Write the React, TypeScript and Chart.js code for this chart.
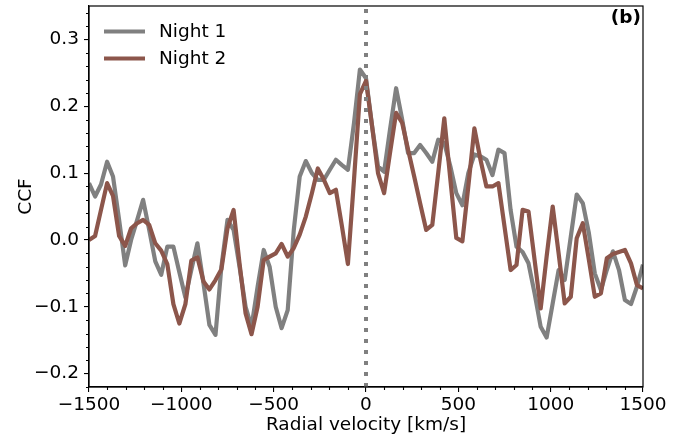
import React, { useEffect, useRef } from 'react';
import { Chart, registerables } from 'chart.js';

Chart.register(...registerables);

// Radial velocity grid [km/s]
const velocities = [
  -1500, -1467, -1435, -1402, -1370, -1337, -1304, -1272, -1239, -1207, -1174, -1141, -1109, -1076, -1043, -1011,
  -978, -946, -913, -880, -848, -815, -783, -750, -717, -685, -652, -620, -587, -554, -522, -489,
  -457, -424, -391, -359, -326, -293, -261, -228, -196, -163, -130, -98, -65, -33, 0,
  33, 65, 98, 130, 163, 196, 228, 261, 293, 326, 359, 391, 424, 457, 489,
  522, 554, 587, 620, 652, 685, 717, 750, 783, 815, 848, 880, 913, 946, 978, 1011,
  1043, 1076, 1109, 1141, 1174, 1207, 1239, 1272, 1304, 1337, 1370, 1402, 1435, 1467, 1500,
];

const night1 = [
  0.085, 0.065, 0.083, 0.117, 0.095, 0.03, -0.038, 0.0, 0.03, 0.06,
  0.015, -0.032, -0.052, -0.01, -0.01, -0.048, -0.086, -0.045, -0.005, -0.065,
  -0.127, -0.142, -0.04, 0.03, 0.015, -0.04, -0.1, -0.13, -0.07, -0.015,
  -0.04, -0.1, -0.132, -0.105, 0.015, 0.095, 0.118, 0.1, 0.09, 0.09,
  0.105, 0.12, 0.112, 0.105, 0.175, 0.255, 0.242, 0.17, 0.11, 0.102,
  0.165, 0.227, 0.18, 0.13, 0.13, 0.142, 0.13, 0.117, 0.15, 0.145,
  0.11, 0.07, 0.052, 0.1, 0.128, 0.125, 0.12, 0.097, 0.135, 0.13,
  0.045, -0.01, -0.018, -0.035, -0.08, -0.13, -0.146, -0.095, -0.045, -0.06,
  0.005, 0.068, 0.055, 0.01, -0.05, -0.075, -0.045, -0.017, -0.045, -0.09,
  -0.096, -0.07, -0.037,
];

const night2 = [
  0.0, 0.006, 0.045, 0.085, 0.066, 0.006, -0.009, 0.0175, 0.025, 0.03,
  0.0225, -0.005, -0.016, -0.036, -0.096, -0.125, -0.096, -0.031, -0.026, -0.062,
  -0.074, -0.06, -0.044, 0.0175, 0.045, -0.035, -0.11, -0.141, -0.1, -0.03,
  -0.025, -0.02, -0.006, -0.025, -0.012, 0.008, 0.035, 0.07, 0.107, 0.09,
  0.07, 0.075, 0.02, -0.036, 0.09, 0.218, 0.238, 0.17, 0.1, 0.07,
  0.13, 0.19, 0.175, 0.135, 0.095, 0.055, 0.015, 0.0225, 0.1, 0.182,
  0.09, 0.003, -0.002, 0.08, 0.167, 0.12, 0.08, 0.08, 0.085, 0.02,
  -0.045, -0.0375, 0.045, 0.0425, -0.03, -0.1025, -0.025, 0.05, -0.02, -0.095,
  -0.085, 0.0025, 0.025, -0.03, -0.085, -0.08, -0.0275, -0.021, -0.018, -0.015,
  -0.035, -0.0675, -0.0725,
];

const seriesNames = ['Night 1', 'Night 2'];
const seriesColors = ['#808080', '#8c564b'];

const xTicks = [-1500, -1000, -500, 0, 500, 1000, 1500];
const yTicks = [-0.2, -0.1, 0.0, 0.1, 0.2, 0.3];
const xRange = [-1500, 1500];
const yRange = [-0.22, 0.35];
const xMinorStep = 100;
const yMinorStep = 0.02;
const panelLabel = '(b)';
const xTitle = 'Radial velocity [km/s]';
const yTitle = 'CCF';

const FONT = 'DejaVu Sans';
const FS = 18.5;
const fmt = (v: number, d: number) => (v < -1e-9 ? '\u2212' : '') + Math.abs(v).toFixed(d);

const decor = {
  id: 'decor',
  afterDraw(chart: any) {
    const { ctx, chartArea: a, scales } = chart;
    const x = scales.x;
    const y = scales.y;
    ctx.save();
    // minor ticks
    ctx.strokeStyle = '#000';
    ctx.lineWidth = 1.1;
    ctx.beginPath();
    const nx = Math.round((xRange[1] - xRange[0]) / xMinorStep);
    for (let k = 0; k <= nx; k++) {
      const v = xRange[0] + k * xMinorStep;
      if (xTicks.some((t) => Math.abs(t - v) < 1e-6)) continue;
      const px = Math.round(x.getPixelForValue(v)) + 0.5;
      ctx.moveTo(px, a.bottom);
      ctx.lineTo(px, a.bottom + 3);
    }
    const k0 = Math.ceil(yRange[0] / yMinorStep - 1e-6);
    const k1 = Math.floor(yRange[1] / yMinorStep + 1e-6);
    for (let k = k0; k <= k1; k++) {
      const v = k * yMinorStep;
      if (yTicks.some((t) => Math.abs(t - v) < 1e-6)) continue;
      const py = Math.round(y.getPixelForValue(v)) + 0.5;
      ctx.moveTo(a.left, py);
      ctx.lineTo(a.left - 3, py);
    }
    ctx.stroke();
    // frame
    ctx.strokeStyle = '#000';
    ctx.lineWidth = 1.2;
    ctx.strokeRect(a.left, a.top, a.right - a.left, a.bottom - a.top);
    // legend
    ctx.font = `${FS}px "${FONT}"`;
    ctx.textBaseline = 'middle';
    ctx.textAlign = 'left';
    seriesNames.forEach((name, i) => {
      const ly = a.top + 25.5 + i * 27;
      ctx.strokeStyle = seriesColors[i];
      ctx.lineWidth = 4.2;
      ctx.lineCap = 'butt';
      ctx.beginPath();
      ctx.moveTo(a.left + 15, ly);
      ctx.lineTo(a.left + 56, ly);
      ctx.stroke();
      ctx.fillStyle = '#000';
      ctx.fillText(name, a.left + 70, ly + 1);
    });
    // panel label
    ctx.font = `bold ${FS}px "${FONT}"`;
    ctx.textAlign = 'right';
    ctx.fillStyle = '#000';
    ctx.fillText(panelLabel, a.right - 2, a.top + 12);
    ctx.restore();
  },
};

export default function App() {
  const ref = useRef<HTMLCanvasElement>(null);
  useEffect(() => {
    if (!ref.current) return;
    const pts = (arr: number[]) => velocities.map((v, i) => ({ x: v, y: arr[i] }));
    const chart = new Chart(ref.current, {
      type: 'line',
      data: {
        datasets: [
          {
            label: 'zero',
            data: [
              { x: 0, y: yRange[0] },
              { x: 0, y: yRange[1] },
            ],
            borderColor: '#808080',
            borderWidth: 4,
            borderDash: [4, 7],
            borderCapStyle: 'butt',
            pointRadius: 0,
            order: 0,
          },
          {
            label: seriesNames[1],
            data: pts(night2),
            borderColor: seriesColors[1],
            borderWidth: 4.2,
            borderJoinStyle: 'round',
            pointRadius: 0,
            tension: 0,
            order: 1,
          },
          {
            label: seriesNames[0],
            data: pts(night1),
            borderColor: seriesColors[0],
            borderWidth: 4.2,
            borderJoinStyle: 'round',
            pointRadius: 0,
            tension: 0,
            order: 2,
          },
        ],
      },
      options: {
        responsive: false,
        animation: false,
        devicePixelRatio: 1,
        layout: { padding: { left: 0, right: 40, top: 6, bottom: 0 } },
        plugins: { legend: { display: false }, tooltip: { enabled: false } },
        scales: {
          x: {
            type: 'linear',
            min: xRange[0],
            max: xRange[1],
            afterBuildTicks: (s: any) => {
              s.ticks = xTicks.map((value) => ({ value }));
            },
            afterFit: (s: any) => {
              s.height = 57;
              s.paddingLeft = 0;
              s.paddingRight = 0;
            },
            grid: {
              drawOnChartArea: false,
              drawTicks: true,
              tickLength: 5,
              color: '#000',
              tickColor: '#000',
              lineWidth: 1.1,
            },
            border: { display: true, color: '#000', width: 1.2 },
            ticks: {
              autoSkip: false,
              maxRotation: 0,
              padding: 2,
              color: '#000',
              font: { family: FONT, size: FS },
              callback: (v: any) => fmt(Number(v), 0),
            },
            title: {
              display: true,
              text: xTitle,
              color: '#000',
              font: { family: FONT, size: FS },
              padding: { top: 0, bottom: 8 },
            },
          },
          y: {
            type: 'linear',
            min: yRange[0],
            max: yRange[1],
            afterBuildTicks: (s: any) => {
              s.ticks = yTicks.map((value) => ({ value }));
            },
            afterFit: (s: any) => {
              s.width = 89;
              s.paddingTop = 0;
              s.paddingBottom = 0;
            },
            grid: {
              drawOnChartArea: false,
              drawTicks: true,
              tickLength: 5,
              color: '#000',
              tickColor: '#000',
              lineWidth: 1.1,
            },
            border: { display: true, color: '#000', width: 1.2 },
            ticks: {
              autoSkip: false,
              padding: 5,
              color: '#000',
              font: { family: FONT, size: FS },
              callback: (v: any) => fmt(Number(v), 1),
            },
            title: {
              display: true,
              text: yTitle,
              color: '#000',
              font: { family: FONT, size: FS },
              padding: { top: 15, bottom: 0 },
            },
          },
        },
      },
      plugins: [decor],
    } as any);
    return () => chart.destroy();
  }, []);

  return (
    <div style={{ position: 'fixed', left: 0, top: 0, width: 683, height: 444, background: '#fff' }}>
      <canvas ref={ref} width={683} height={444} style={{ display: 'block', width: 683, height: 444 }} />
    </div>
  );
}
